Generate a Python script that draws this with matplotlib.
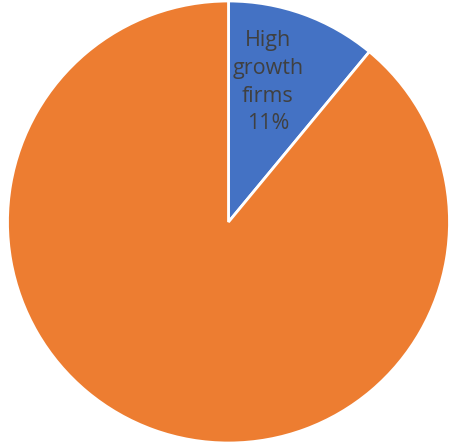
import matplotlib
matplotlib.use("Agg")
import matplotlib.pyplot as plt

categories = ["High growth firms", "Other firms"]
shares = [11, 89]
colors = ["#4472C4", "#ED7D31"]

fig = plt.figure(figsize=(4.52, 4.47), dpi=100)
W, H = 452, 447
cx, cy, r = 228.5, 222.0, 221.0
ax = fig.add_axes([(cx - r) / W, (H - cy - r) / H, 2 * r / W, 2 * r / H])

def label_for(pct, it=iter(range(len(shares)))):
    i = next(it)
    if i == 0:
        return "High\ngrowth\nfirms\n{:.0f}%".format(pct)
    return ""

wedges, texts, autotexts = ax.pie(
    shares,
    colors=colors,
    startangle=90,
    counterclock=False,
    autopct=label_for,
    pctdistance=0.66,
    wedgeprops=dict(edgecolor="white", linewidth=2.0),
    textprops=dict(color="#404040", fontsize=15.5, family="Open Sans", linespacing=1.42),
    radius=1.0,
)
# nudge the data label toward the left edge of its wedge
autotexts[0].set_position((0.178, 0.632))

ax.set_xlim(-1, 1)
ax.set_ylim(-1, 1)
ax.set_aspect("equal")
ax.axis("off")

fig.savefig("out.png", dpi=100)
